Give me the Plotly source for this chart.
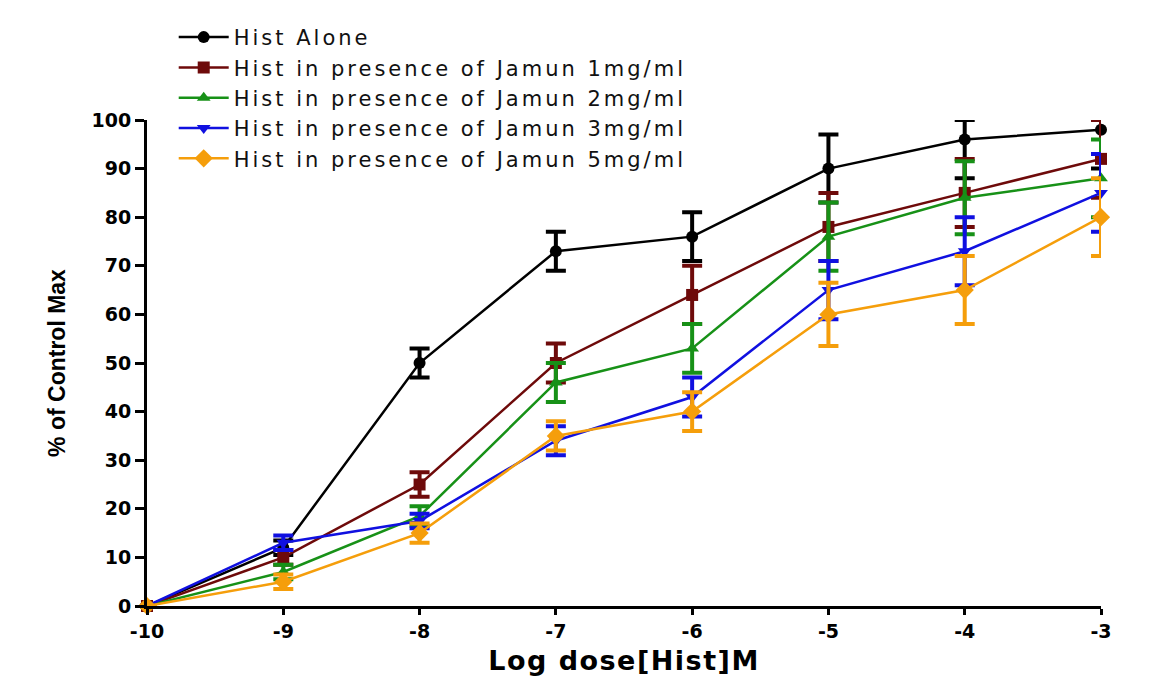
import plotly.graph_objects as go

doses = [-10, -9, -8, -7, -6, -5, -4, -3]

names = [
    "Hist Alone",
    "Hist in presence of Jamun 1mg/ml",
    "Hist in presence of Jamun 2mg/ml",
    "Hist in presence of Jamun 3mg/ml",
    "Hist in presence of Jamun 5mg/ml",
]

hist_alone = [0, 12, 50, 73, 76, 90, 96, 98]
hist_alone_err = [0, 1.5, 3, 4, 5, 7, 8, 8]

jamun_1 = [0, 10, 25, 50, 64, 78, 85, 92]
jamun_1_err = [0, 1.5, 2.5, 4, 6, 7, 7, 8]

jamun_2 = [0, 7, 18.5, 46, 53, 76, 84, 88]
jamun_2_err = [0, 1.5, 2, 4, 5, 7, 7.5, 8]

jamun_3 = [0, 13, 17.5, 34, 43, 65, 73, 85]
jamun_3_err = [0, 1.5, 1.5, 3, 4, 6, 7, 8]

jamun_5 = [0, 5, 15, 35, 40, 60, 65, 80]
jamun_5_err = [0, 1.5, 2, 3, 4, 6.5, 7, 8]

series = [hist_alone, jamun_1, jamun_2, jamun_3, jamun_5]
errors = [hist_alone_err, jamun_1_err, jamun_2_err, jamun_3_err, jamun_5_err]
colors = ["#000000", "#6E0A0A", "#179117", "#1010E0", "#F59E0B"]
symbols = ["circle", "square", "triangle-up", "triangle-down", "diamond"]
sizes = [12, 12, 12, 12, 14]


def spaced(text, px):
    return '<span style="letter-spacing:%spx">%s</span>' % (px, text)


fig = go.Figure()
for i in range(5):
    y = series[i]
    e = errors[i]
    plus = [min(v + d, 100) - v for v, d in zip(y, e)]
    fig.add_trace(go.Scatter(
        x=doses, y=y, name=spaced(names[i], 3), mode="lines+markers",
        line=dict(color=colors[i], width=2.5),
        marker=dict(symbol=symbols[i], size=sizes[i], color=colors[i]),
        error_y=dict(type="data", array=plus, arrayminus=e, symmetric=False,
                     color=colors[i], thickness=4, width=10),
        cliponaxis=False,
    ))

fig.update_layout(
    width=1171, height=676,
    margin=dict(l=147, r=70, t=120, b=70),
    plot_bgcolor="white", paper_bgcolor="white",
    showlegend=True,
    legend=dict(
        x=0.028, xanchor="left", y=1.212, yanchor="top",
        font=dict(family="DejaVu Sans, Liberation Sans, Arial", size=21, color="#111"),
        bgcolor="rgba(0,0,0,0)", itemwidth=50, tracegroupgap=0,
        traceorder="normal",
    ),
    xaxis=dict(
        range=[-10, -3], tickmode="array", tickvals=doses,
        ticktext=[str(d) for d in doses],
        showgrid=False, zeroline=False, automargin=False,
        showline=True, linecolor="black", linewidth=3,
        ticks="outside", ticklen=6, tickwidth=3, tickcolor="black",
        tickfont=dict(family="DejaVu Sans, Arial", size=19, color="black", weight="bold"),
        title=dict(text=spaced("Log dose[Hist]M", 1.5), standoff=13,
                   font=dict(family="DejaVu Sans, Arial", size=27, color="black", weight="bold")),
    ),
    yaxis=dict(
        range=[0, 100], tickmode="array", tickvals=list(range(0, 101, 10)),
        showgrid=False, zeroline=False, automargin=False,
        showline=True, linecolor="black", linewidth=3,
        ticks="outside", ticklen=9, tickwidth=3, tickcolor="black",
        tickfont=dict(family="DejaVu Sans, Arial", size=19, color="black", weight="bold"),
        title=dict(text="% of Control Max", standoff=20,
                   font=dict(family="Liberation Sans, Arial", size=23, color="black", weight="bold")),
    ),
)

fig.write_html("out.html")
